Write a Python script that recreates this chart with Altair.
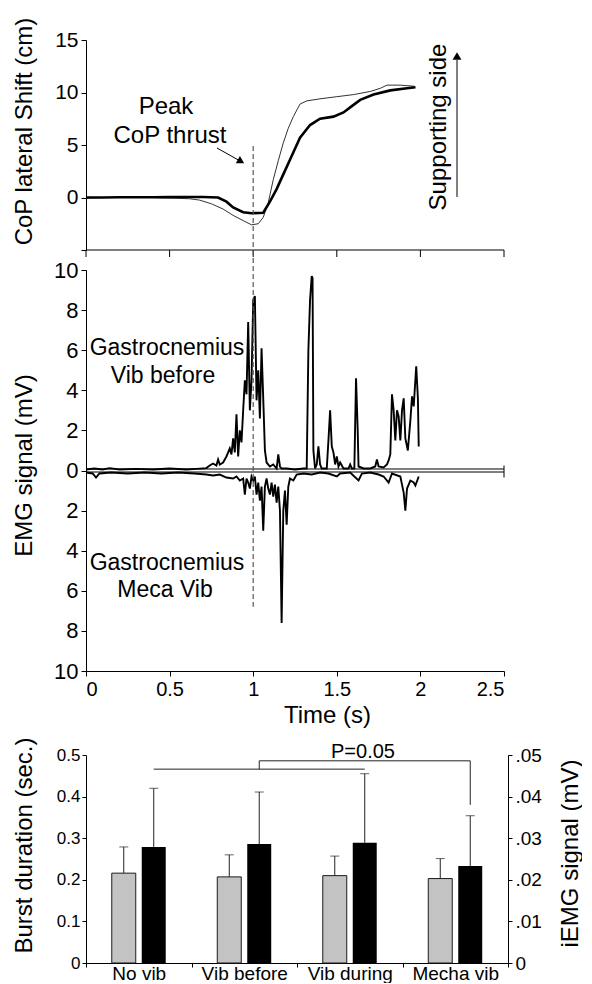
import altair as alt
import pandas as pd

FONT = "Liberation Sans"

# ---------------- CoP lateral shift (cm) ----------------
cop_thin_t = [0.00, 0.10, 0.20, 0.30, 0.40, 0.45, 0.55, 0.62, 0.68, 0.75, 0.82, 0.88, 0.94, 0.99, 1.03,
              1.06, 1.09, 1.12, 1.15, 1.18, 1.21, 1.24, 1.28, 1.32, 1.40, 1.50, 1.60, 1.70, 1.76, 1.80,
              1.88, 1.96, 1.97]
cop_thin_v = [-0.05, 0.0, 0.0, 0.0, 0.0, -0.05, -0.08, -0.12, -0.25, -0.6, -1.1, -1.7, -2.2, -2.6, -2.5,
              -1.9, -0.5, 1.7, 3.5, 5.2, 6.6, 7.7, 8.9, 9.2, 9.4, 9.6, 9.8, 10.1, 10.4, 10.7,
              10.7, 10.6, 10.5]
cop_thick_t = [0.00, 0.10, 0.20, 0.30, 0.40, 0.50, 0.60, 0.70, 0.79, 0.84, 0.88, 0.94, 0.99, 1.06, 1.10,
               1.14, 1.18, 1.22, 1.28, 1.34, 1.40, 1.48, 1.54, 1.59, 1.64, 1.72, 1.82, 1.92, 1.97]
cop_thick_v = [0.0, 0.0, 0.02, 0.02, 0.03, 0.05, 0.05, 0.05, 0.0, -0.4, -0.95, -1.4, -1.5, -1.45, -0.4,
               0.8, 2.2, 3.6, 5.7, 6.9, 7.5, 7.7, 8.1, 8.7, 9.3, 9.8, 10.2, 10.4, 10.5]
peak_time = 1.0

# ---------------- EMG (mV) ----------------
emg_vib_before = [
    (0.00, 0.05), (0.05, 0.10), (0.10, 0.05), (0.14, 0.12), (0.20, 0.05), (0.30, 0.08), (0.40, 0.05),
    (0.50, 0.10), (0.60, 0.05), (0.66, 0.08), (0.72, 0.12), (0.74, 0.25), (0.76, 0.35), (0.78, 0.25),
    (0.79, 0.55), (0.80, 0.30), (0.82, 0.40), (0.84, 0.70), (0.86, 1.1), (0.87, 0.8), (0.88, 1.6),
    (0.89, 0.9), (0.90, 2.8), (0.91, 0.7), (0.92, 2.0), (0.93, 1.4), (0.94, 3.0), (0.95, 4.5),
    (0.96, 3.8), (0.97, 7.4), (0.98, 3.0), (0.99, 4.5), (1.00, 8.5), (1.01, 8.7), (1.02, 3.5),
    (1.03, 5.0), (1.04, 2.6), (1.05, 6.1), (1.06, 3.6), (1.07, 1.0), (1.08, 0.4), (1.10, 0.2),
    (1.12, 0.3), (1.14, 0.1), (1.15, 0.8), (1.16, 0.2), (1.17, 0.1), (1.20, 0.1), (1.25, 0.05),
    (1.30, 0.1), (1.32, 0.1), (1.33, 6.0), (1.34, 8.5), (1.35, 9.7), (1.355, 9.6), (1.36, 1.0),
    (1.37, 0.1), (1.38, 0.3), (1.39, 1.2), (1.40, 0.3), (1.41, 0.1), (1.44, 0.1), (1.45, 1.5),
    (1.46, 3.0), (1.47, 1.2), (1.48, 0.9), (1.49, 0.3), (1.50, 0.7), (1.51, 0.2), (1.52, 0.4),
    (1.54, 0.1), (1.57, 0.1), (1.58, 0.3), (1.59, 0.1), (1.605, 0.1), (1.615, 4.6), (1.625, 2.0),
    (1.63, 0.2), (1.66, 0.1), (1.70, 0.1), (1.73, 0.2), (1.74, 0.55), (1.75, 0.2), (1.78, 0.15),
    (1.80, 0.3), (1.81, 0.5), (1.82, 0.8), (1.83, 3.8), (1.84, 3.0), (1.85, 1.5), (1.86, 3.0),
    (1.87, 2.7), (1.88, 1.5), (1.89, 3.0), (1.90, 3.6), (1.91, 1.6), (1.925, 1.0), (1.94, 2.5),
    (1.95, 3.7), (1.96, 3.2), (1.975, 5.2), (1.985, 3.6), (1.99, 1.2),
]
emg_meca_vib = [
    (0.00, -0.1), (0.04, -0.15), (0.06, -0.35), (0.08, -0.15), (0.15, -0.1), (0.25, -0.15),
    (0.35, -0.1), (0.45, -0.15), (0.55, -0.1), (0.65, -0.15), (0.72, -0.2), (0.76, -0.25),
    (0.80, -0.2), (0.84, -0.35), (0.88, -0.4), (0.90, -0.3), (0.92, -0.5), (0.94, -0.4),
    (0.95, -1.2), (0.96, -0.4), (0.97, -0.6), (0.98, -0.9), (0.99, -0.3), (1.00, -0.5),
    (1.01, -0.3), (1.02, -1.2), (1.03, -0.6), (1.04, -1.5), (1.05, -0.8), (1.06, -3.0),
    (1.07, -0.8), (1.08, -0.4), (1.09, -0.9), (1.10, -1.2), (1.11, -0.6), (1.12, -1.3),
    (1.13, -0.7), (1.14, -1.6), (1.15, -0.8), (1.16, -2.0), (1.17, -7.6), (1.18, -2.0),
    (1.19, -1.0), (1.20, -2.7), (1.21, -0.8), (1.22, -0.4), (1.24, -0.5), (1.26, -0.2),
    (1.30, -0.15), (1.35, -0.2), (1.40, -0.1), (1.45, -0.15), (1.50, -0.3), (1.52, -0.15),
    (1.58, -0.1), (1.63, -0.5), (1.65, -0.15), (1.70, -0.1), (1.75, -0.2), (1.78, -0.3),
    (1.81, -0.6), (1.83, -0.15), (1.88, -0.3), (1.90, -1.1), (1.91, -2.0), (1.92, -0.9),
    (1.94, -0.5), (1.96, -0.6), (1.97, -0.75), (1.99, -0.3),
]

# ---------------- Bars ----------------
categories = ["No vib", "Vib before", "Vib during", "Mecha vib"]
burst_mean = [0.216, 0.207, 0.210, 0.203]
burst_sd = [0.063, 0.053, 0.047, 0.048]
iemg_mean = [0.0279, 0.0286, 0.0289, 0.0233]
iemg_sd = [0.0141, 0.0125, 0.0166, 0.0121]
p_label = "P=0.05"
bracket_low = 0.466
bracket_high = 0.486
bracket_drop = 0.38

time_ticks = [0, 0.5, 1, 1.5, 2, 2.5]


def label(text, x, y, size=24, angle=0, baseline="alphabetic"):
    return alt.Chart(pd.DataFrame({"txt": [text]})).mark_text(
        font=FONT, fontSize=size, angle=angle, baseline=baseline, align="center", color="black"
    ).encode(x=alt.value(x), y=alt.value(y), text="txt:N")


one = pd.DataFrame({"a": [0]})

# ---------------- shared time axis ----------------
xs = alt.Scale(domain=[0, 2.5], nice=False)
x_main = alt.X("t:Q", scale=xs, axis=alt.Axis(
    values=time_ticks, format="~g", labelFontSize=20, tickSize=5, labelPadding=3,
    title="Time (s)", titleFontSize=24, titleX=241, titleY=51, titleBaseline="alphabetic"))
x_plain = alt.X("t:Q", scale=xs)

# ---------------- top group (CoP) ----------------
ys_top = alt.Scale(domain=[-5, 15], nice=False, range=[210, 0])
y_top = alt.Y("v:Q", scale=ys_top, axis=alt.Axis(
    orient="left", values=[-5, 0, 5, 10, 15], labelExpr="datum.value < 0 ? '' : datum.label",
    labelFontSize=21, tickSize=5, labelPadding=3, title="CoP lateral Shift (cm)", titleFontSize=24,
    titleAngle=270, titleX=-62, titleY=91, titleBaseline="middle"))
y_top_plain = alt.Y("v:Q", scale=ys_top)

thin = alt.Chart(pd.DataFrame({"t": cop_thin_t, "v": cop_thin_v})).mark_line(
    color="#333333", strokeWidth=1).encode(x=x_main, y=y_top)
thick = alt.Chart(pd.DataFrame({"t": cop_thick_t, "v": cop_thick_v})).mark_line(
    color="black", strokeWidth=2.6).encode(x=x_plain, y=y_top_plain)
dash_top = alt.Chart(pd.DataFrame({"t": [peak_time], "v": [4.9], "v2": [-5.0]})).mark_rule(
    color="#555555", strokeDash=[5, 3], strokeWidth=1.2).encode(x=x_plain, y=y_top_plain, y2="v2:Q")
top_axis_line = alt.Chart(pd.DataFrame({"t": [0.0], "t2": [2.5]})).mark_rule(
    color="black", strokeWidth=1).encode(x=x_plain, x2="t2:Q", y=alt.value(210))
top_axis_ticks = alt.Chart(pd.DataFrame({"t": time_ticks})).mark_rule(
    color="black", strokeWidth=1).encode(x=x_plain, y=alt.value(210), y2=alt.value(217))
arrow1 = alt.Chart(one).mark_rule(color="black", strokeWidth=1).encode(
    x=alt.value(131), y=alt.value(108), x2=alt.value(155), y2=alt.value(121.5))
arrow1_head = alt.Chart(one).mark_point(shape="triangle-up", filled=True, size=70, angle=120,
                                        color="black", opacity=1).encode(x=alt.value(155), y=alt.value(121.5))
arrow2 = alt.Chart(one).mark_rule(color="black", strokeWidth=1).encode(
    x=alt.value(371), y=alt.value(157), y2=alt.value(20))
arrow2_head = alt.Chart(one).mark_point(shape="triangle-up", filled=True, size=80,
                                        color="black", opacity=1).encode(x=alt.value(371), y=alt.value(16))

top_group = alt.layer(
    thin, thick, dash_top, top_axis_line, top_axis_ticks,
    label("Peak", 80, 74), label("CoP thrust", 84, 103), arrow1, arrow1_head,
    label("Supporting side", 353, 87, angle=270, baseline="middle"), arrow2, arrow2_head,
)

# ---------------- middle group (EMG) ----------------
ys_mid = alt.Scale(domain=[-10, 10], nice=False, range=[631, 230])
y_mid = alt.Y("v:Q", scale=ys_mid, axis=alt.Axis(
    orient="left", values=list(range(-10, 11, 2)), labelExpr="'' + abs(datum.value)",
    labelFontSize=22, tickSize=5, labelPadding=3, title="EMG signal (mV)", titleFontSize=24,
    titleAngle=270, titleX=-62, titleY=425, titleBaseline="middle"))
y_mid_plain = alt.Y("v:Q", scale=ys_mid)

before = alt.Chart(pd.DataFrame(emg_vib_before, columns=["t", "v"])).mark_line(
    color="black", strokeWidth=1.9).encode(x=x_plain, y=y_mid)
meca = alt.Chart(pd.DataFrame(emg_meca_vib, columns=["t", "v"])).mark_line(
    color="black", strokeWidth=1.9).encode(x=x_plain, y=y_mid_plain)
zero_lines = alt.Chart(pd.DataFrame({"t": [0.0, 0.0], "t2": [2.5, 2.5], "v": [0.075, -0.075]})).mark_rule(
    color="black", strokeWidth=1).encode(x=x_plain, x2="t2:Q", y=y_mid_plain)
zero_end = alt.Chart(pd.DataFrame({"t": [2.5], "v": [0.25], "v2": [-0.35]})).mark_rule(
    color="black", strokeWidth=1).encode(x=x_plain, y=y_mid_plain, y2="v2:Q")
dash_mid = alt.Chart(pd.DataFrame({"t": [peak_time], "v": [11.0], "v2": [-6.8]})).mark_rule(
    color="#555555", strokeDash=[5, 3], strokeWidth=1.2).encode(x=x_plain, y=y_mid_plain, y2="v2:Q")

mid_group = alt.layer(
    before, meca, zero_lines, zero_end, dash_mid,
    label("Gastrocnemius", 81, 315, size=23), label("Vib before", 77, 343, size=23),
    label("Gastrocnemius", 81, 530, size=23), label("Meca Vib", 79, 557, size=23),
)

upper = alt.layer(top_group, mid_group).resolve_scale(y="independent").properties(width=418, height=631)

# ---------------- bottom bars ----------------
grey_df = pd.DataFrame({"cond": categories, "series": "burst", "m": burst_mean,
                        "hi": [m + s for m, s in zip(burst_mean, burst_sd)]})
black_df = pd.DataFrame({"cond": categories, "series": "iemg", "m": iemg_mean,
                         "hi": [m + s for m, s in zip(iemg_mean, iemg_sd)]})

xb = alt.X("cond:N", sort=categories, scale=alt.Scale(paddingInner=0, paddingOuter=0),
           axis=alt.Axis(labelAngle=0, labelFontSize=19, tickSize=4, labelPadding=12,
                         labelBaseline="alphabetic", tickBand="extent", title=None))
xb_plain = alt.X("cond:N", sort=categories, scale=alt.Scale(paddingInner=0, paddingOuter=0))
xo = alt.XOffset("series:N", scale=alt.Scale(domain=["burst", "iemg"], paddingInner=0.2, paddingOuter=0.86))

lys = alt.Scale(domain=[0, 0.5], nice=False)
rys = alt.Scale(domain=[0, 0.05], nice=False)

gbar = alt.Chart(grey_df).mark_bar(color="#c3c3c3", stroke="#1a1a1a", strokeWidth=1).encode(
    x=xb, xOffset=xo, y=alt.Y("m:Q", scale=lys, axis=alt.Axis(
        values=[0, 0.1, 0.2, 0.3, 0.4, 0.5],
        labelExpr="datum.value == 0 ? '0' : format(datum.value, '.1f')",
        labelFontSize=17, tickSize=4, labelPadding=2, title="Burst duration (sec.)",
        titleFontSize=24, titleAngle=270, titleX=-62, titleY=90, titleBaseline="middle")))
gerr = alt.Chart(grey_df).mark_rule(color="#222222", strokeWidth=1).encode(
    x=xb_plain, xOffset=xo, y=alt.Y("m:Q", scale=lys), y2="hi:Q")
gcap = alt.Chart(grey_df).mark_tick(color="#222222", thickness=1, size=9).encode(
    x=xb_plain, xOffset=xo, y=alt.Y("hi:Q", scale=lys))

br_low = alt.Chart(pd.DataFrame({"cond": ["No vib", "Vib during"], "series": "iemg",
                                 "lvl": [bracket_low, bracket_low], "seq": [0, 1]})).mark_line(
    color="#222222", strokeWidth=1).encode(x=xb_plain, xOffset=xo, y=alt.Y("lvl:Q", scale=lys),
                                          order="seq:Q")
br_high = alt.Chart(pd.DataFrame({"cond": ["Vib before", "Vib before", "Mecha vib", "Mecha vib"],
                                  "series": "iemg",
                                  "lvl": [bracket_low, bracket_high, bracket_high, bracket_drop],
                                  "seq": [0, 1, 2, 3]})).mark_line(
    color="#222222", strokeWidth=1).encode(x=xb_plain, xOffset=xo, y=alt.Y("lvl:Q", scale=lys),
                                          order="seq:Q")
ptext = label(p_label, 277, -3, size=20, baseline="middle")

left_group = alt.layer(gbar, gerr, gcap, br_low, br_high, ptext)

bbar = alt.Chart(black_df).mark_bar(color="black").encode(
    x=xb_plain, xOffset=xo, y=alt.Y("m:Q", scale=rys, axis=alt.Axis(
        orient="right", values=[0, 0.01, 0.02, 0.03, 0.04, 0.05],
        labelExpr="datum.value == 0 ? '0' : replace(format(datum.value, '.2f'), '0.', '.')",
        labelFontSize=19, tickSize=4, labelPadding=3, title="iEMG signal (mV)",
        titleFontSize=24, titleAngle=270, titleX=62, titleY=98, titleBaseline="middle")))
berr = alt.Chart(black_df).mark_rule(color="#222222", strokeWidth=1).encode(
    x=xb_plain, xOffset=xo, y=alt.Y("m:Q", scale=rys), y2="hi:Q")
bcap = alt.Chart(black_df).mark_tick(color="#222222", thickness=1, size=9).encode(
    x=xb_plain, xOffset=xo, y=alt.Y("hi:Q", scale=rys))
right_group = alt.layer(bbar, berr, bcap)

bottom = alt.layer(left_group, right_group).resolve_scale(y="independent").properties(width=422, height=208)

chart = alt.vconcat(upper, bottom, spacing=84, bounds="flush").properties(
    padding={"left": 3, "top": 8, "right": 0, "bottom": 0}
).configure_view(stroke=None).configure_axis(
    domainColor="black", tickColor="black", labelColor="black", titleColor="black",
    labelFont=FONT, titleFont=FONT, titleFontWeight="normal", grid=False
)

chart.save("out.html", embed_options={"renderer": "svg", "actions": False})
